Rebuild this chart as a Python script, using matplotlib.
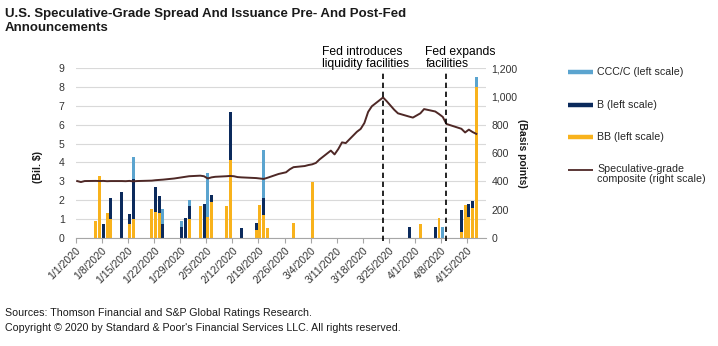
import matplotlib
matplotlib.use("Agg")
import matplotlib.pyplot as plt
import matplotlib.dates as mdates
import matplotlib.transforms as mtransforms
from matplotlib.lines import Line2D
from matplotlib.ticker import FuncFormatter
import pandas as pd

plt.rcParams['font.family'] = ['Liberation Sans', 'DejaVu Sans']

# ---------------- data ----------------
bar_dates = ["2020-01-06", "2020-01-07", "2020-01-08", "2020-01-09", "2020-01-10",
             "2020-01-13", "2020-01-15", "2020-01-16", "2020-01-21", "2020-01-22",
             "2020-01-23", "2020-01-24", "2020-01-29", "2020-01-30", "2020-01-31",
             "2020-02-03", "2020-02-04", "2020-02-05", "2020-02-06", "2020-02-10",
             "2020-02-11", "2020-02-14", "2020-02-18", "2020-02-19", "2020-02-20",
             "2020-02-21", "2020-02-28", "2020-03-04", "2020-03-30", "2020-04-02",
             "2020-04-06", "2020-04-07", "2020-04-08", "2020-04-13", "2020-04-14",
             "2020-04-15", "2020-04-16", "2020-04-17"]
bb = [0.9, 3.3, 0.0, 1.3, 1.0,
      0.0, 0.75, 1.0, 1.53, 1.4,
      1.33, 0.0, 0.0, 0.0, 1.0,
      1.67, 0.0, 1.12, 1.9, 1.67,
      4.15, 0.0, 0.4, 1.74, 1.2,
      0.55, 0.78, 2.96, 0.0, 0.73,
      0.0, 1.05, 0.0, 0.3, 1.73,
      1.13, 1.58, 8.0]
b = [0.0, 0.0, 0.75, 0.0, 1.1,
     2.45, 0.5, 2.15, 0.0, 1.28,
     0.92, 0.73, 0.6, 1.05, 0.72,
     0.0, 1.78, 0.0, 0.38, 0.0,
     2.52, 0.52, 0.38, 0.0, 0.9,
     0.0, 0.0, 0.0, 0.6, 0.0,
     0.6, 0.0, 0.0, 1.2, 0.0,
     0.67, 0.36, 0.0]
ccc = [0.0, 0.0, 0.0, 0.0, 0.0,
       0.0, 0.0, 1.15, 0.0, 0.0,
       0.0, 0.81, 0.32, 0.0, 0.3,
       0.0, 0.0, 2.3, 0.0, 0.0,
       0.0, 0.0, 0.0, 0.0, 2.58,
       0.0, 0.0, 0.0, 0.0, 0.0,
       0.0, 0.0, 0.6, 0.0, 0.0,
       0.0, 0.0, 0.52]

spread_dates = ["2020-01-01", "2020-01-02", "2020-01-03", "2020-01-06", "2020-01-07",
                "2020-01-08", "2020-01-09", "2020-01-10", "2020-01-13", "2020-01-14",
                "2020-01-15", "2020-01-16", "2020-01-17", "2020-01-21", "2020-01-22",
                "2020-01-23", "2020-01-24", "2020-01-27", "2020-01-28", "2020-01-29",
                "2020-01-30", "2020-01-31", "2020-02-03", "2020-02-04", "2020-02-05",
                "2020-02-06", "2020-02-07", "2020-02-10", "2020-02-11", "2020-02-12",
                "2020-02-13", "2020-02-14", "2020-02-18", "2020-02-19", "2020-02-20",
                "2020-02-21", "2020-02-24", "2020-02-25", "2020-02-26", "2020-02-27",
                "2020-02-28", "2020-03-02", "2020-03-03", "2020-03-04", "2020-03-05",
                "2020-03-06", "2020-03-09", "2020-03-10", "2020-03-11", "2020-03-12",
                "2020-03-13", "2020-03-16", "2020-03-17", "2020-03-18", "2020-03-19",
                "2020-03-20", "2020-03-23", "2020-03-24", "2020-03-25", "2020-03-26",
                "2020-03-27", "2020-03-30", "2020-03-31", "2020-04-01", "2020-04-02",
                "2020-04-03", "2020-04-06", "2020-04-07", "2020-04-08", "2020-04-09",
                "2020-04-13", "2020-04-14", "2020-04-15", "2020-04-16", "2020-04-17"]
spread_bp = [402, 395, 402, 403, 402,
             403, 401, 402, 402, 401,
             403, 400, 402, 405, 408,
             410, 412, 420, 424, 428,
             432, 436, 440, 436, 420,
             428, 432, 436, 438, 436,
             430, 428, 423, 420, 417,
             425, 452, 458, 464, 485,
             500, 508, 515, 520, 530,
             555, 617, 590, 628, 675,
             670, 750, 770, 812, 890,
             930, 992, 965, 935, 905,
             880, 857, 850, 865, 880,
             910, 893, 875, 855, 805,
             771, 745, 765, 748, 735]

event_dates = ["2020-03-23", "2020-04-09"]
event_labels = ["Fed introduces\nliquidity facilities", "Fed expands\nfacilities"]
event_text_dx = [-61, -21]  # pixels, text left edge relative to line

tick_dates = pd.date_range("2020-01-01", "2020-04-15", freq="7D")
x_start, x_end = "2020-01-01", "2020-04-20"

series_labels = ["CCC/C (left scale)", "B (left scale)", "BB (left scale)",
                 "Speculative-grade\ncomposite (right scale)"]
c_ccc, c_b, c_bb, c_line = "#5BA4CF", "#0B2A5C", "#F8B21C", "#4E2826"

title = "U.S. Speculative-Grade Spread And Issuance Pre- And Post-Fed\nAnnouncements"
footer1 = "Sources: Thomson Financial and S&P Global Ratings Research."
footer2 = "Copyright \u00a9 2020 by Standard & Poor's Financial Services LLC. All rights reserved."

# ---------------- figure ----------------
W, H = 718, 346
fig = plt.figure(figsize=(W / 100, H / 100), dpi=100)
L, R, T, B = 75.7, 486, 68, 238
ax = fig.add_axes([L / W, 1 - B / H, (R - L) / W, (B - T) / H])

bw = 0.8
xb = mdates.date2num(pd.to_datetime(bar_dates))
bb_bottom = bb
b_bottom = [p + q for p, q in zip(bb, b)]
ax.bar(xb, bb, width=bw, align='edge', color=c_bb, zorder=2)
ax.bar(xb, b, width=bw, bottom=bb_bottom, align='edge', color=c_b, zorder=2)
ax.bar(xb, ccc, width=bw, bottom=b_bottom, align='edge', color=c_ccc, zorder=2)

ax.set_ylim(0, 9)
ax.set_yticks(range(10))
ax.set_xlim(mdates.date2num(pd.Timestamp(x_start)), mdates.date2num(pd.Timestamp(x_end)))
ax.set_xticks(mdates.date2num(tick_dates))
ax.set_xticklabels([f"{d.month}/{d.day}/{d.year}" for d in tick_dates],
                   rotation=45, ha='right', rotation_mode='anchor')
ax.yaxis.grid(True, color='#D9D9D9', lw=0.8)
ax.set_axisbelow(True)
for s in ['top', 'right', 'left']:
    ax.spines[s].set_visible(False)
ax.spines['bottom'].set_color('#A6A6A6')
ax.spines['bottom'].set_linewidth(0.8)
ax.tick_params(axis='x', length=3.5, color='#A6A6A6', labelsize=7.6,
               labelcolor='#333333', pad=2)
ax.tick_params(axis='y', length=0, labelsize=7.6, labelcolor='#333333', pad=8)
ax.set_ylabel("(Bil. $)", fontsize=7.5, fontweight='bold', color='#1a1a1a')
ax.yaxis.set_label_coords(-0.08, 0.42)

ax2 = ax.twinx()
xs = mdates.date2num(pd.to_datetime(spread_dates)) + bw / 2
ax2.plot(xs, spread_bp, color=c_line, lw=1.4, zorder=3)
ax2.set_ylim(0, 1200)
ax2.set_yticks(range(0, 1201, 200))
ax2.yaxis.set_major_formatter(FuncFormatter(lambda v, p: f"{int(v):,}"))
for s in ['top', 'right', 'left', 'bottom']:
    ax2.spines[s].set_visible(False)
ax2.tick_params(axis='y', length=0, labelsize=7.6, labelcolor='#333333', pad=4)
ax2.set_ylabel("(Basis points)", fontsize=7.5, fontweight='bold', rotation=270,
               color='#1a1a1a')
ax2.yaxis.set_label_coords(1.1, 0.5)

# event lines and notes (one text per line so bounding boxes stay tight)
line_gap_px = 12
for d, lab, dx in zip(event_dates, event_labels, event_text_dx):
    xe = mdates.date2num(pd.Timestamp(d)) + bw / 2
    ax2.axvline(xe, ymin=-0.015, ymax=0.975, color='black', lw=1.2,
                dashes=(3.2, 2.2), clip_on=False, zorder=4)
    for i, part in enumerate(lab.split("\n")):
        tr = mtransforms.offset_copy(ax2.get_xaxis_transform(), fig=fig, x=dx,
                                     y=-i * line_gap_px, units='dots')
        ax2.text(xe, (B - 52) / (B - T), part, transform=tr, ha='left',
                 va='center', fontsize=8.7, color='black')

# legend (manual)
leg_rows = [72.3, 105, 136.7, 170]
leg_colors = [c_ccc, c_b, c_bb, c_line]
leg_lw = [3.2, 3.2, 3.2, 1.3]
for yrow, lab, col, lw in zip(leg_rows, series_labels, leg_colors, leg_lw):
    fig.add_artist(Line2D([568 / W, 593 / W], [1 - yrow / H, 1 - yrow / H],
                          color=col, lw=lw, solid_capstyle='butt'))
    if "\n" in lab:
        fig.text(597 / W, 1 - (yrow - 6.5) / H, lab, ha='left', va='top',
                 fontsize=7.7, color='#262626', linespacing=1.1)
    else:
        fig.text(597 / W, 1 - yrow / H, lab, ha='left', va='center',
                 fontsize=7.7, color='#262626')

fig.text(5 / W, 1 - 8.5 / H, title, ha='left', va='top', fontsize=9.5,
         fontweight='bold', color='#1a1a1a', linespacing=1.2)
fig.text(5 / W, 1 - 312.7 / H, footer1, ha='left', va='center', fontsize=7.7,
         color='#1a1a1a')
fig.text(5 / W, 1 - 328 / H, footer2, ha='left', va='center', fontsize=7.7,
         color='#1a1a1a')

fig.savefig("out.png", dpi=100, facecolor='white')
